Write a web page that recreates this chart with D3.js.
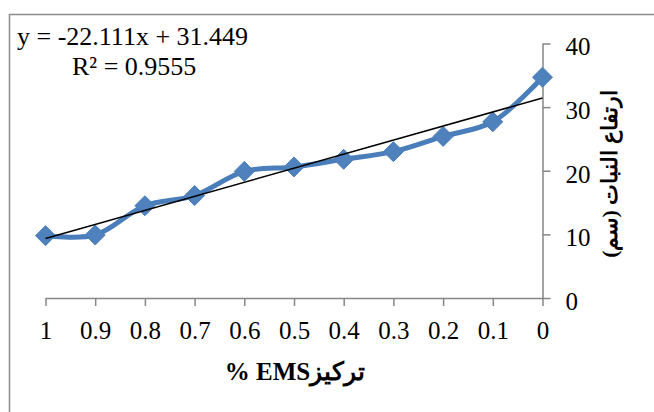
<!DOCTYPE html>
<html>
<head>
<meta charset="utf-8">
<script src="https://cdn.jsdelivr.net/npm/d3@7"></script>
<style>
  html, body { margin: 0; padding: 0; background: #fff; }
  svg { display: block; }
  svg text { font-family: "Times New Roman", "Liberation Serif", serif; fill: #000; }
</style>
</head>
<body>
<svg id="chart" width="654" height="412"></svg>
<script>
// EMS concentration (%) and plant height (cm)
const concentrations = [1, 0.9, 0.8, 0.7, 0.6, 0.5, 0.4, 0.3, 0.2, 0.1, 0];
const concentrationLabels = ["1", "0.9", "0.8", "0.7", "0.6", "0.5", "0.4", "0.3", "0.2", "0.1", "0"];
const plantHeight = [9.8, 9.9, 14.5, 16.1, 19.9, 20.6, 21.8, 23.0, 25.4, 27.7, 34.7];
const heightTicks = [0, 10, 20, 30, 40];

// Linear trendline fitted to the series
const trendSlope = -22.111;
const trendIntercept = 31.449;
const trendR2 = 0.9555;

const svg = d3.select("#chart");
const gray = "#878787";
const serif = '"Times New Roman", "Liberation Serif", serif';

// chart area frame
svg.append("rect")
  .attr("x", 9.5).attr("y", 14.5)
  .attr("width", 700).attr("height", 450)
  .attr("fill", "#fff").attr("stroke", "#8c8c8c").attr("stroke-width", 1.5);

const x = d3.scaleLinear().domain([1, 0]).range([45.5, 542.5]);
const y = d3.scaleLinear().domain([0, 40]).range([298, 43.5]);

// x axis
const xAxis = d3.axisBottom(x)
  .tickValues(concentrations)
  .tickFormat((d, i) => concentrationLabels[i])
  .tickSize(8).tickSizeOuter(0).tickPadding(15);
const gx = svg.append("g").attr("transform", `translate(0,${y(0)})`).call(xAxis)
  .attr("font-family", serif).attr("font-size", 25);
gx.select(".domain").attr("stroke", gray).attr("stroke-width", 1.5);
gx.selectAll(".tick line").attr("stroke", gray).attr("stroke-width", 1.5);
gx.selectAll(".tick text").attr("fill", "#000");

// y axis on the right
const yAxis = d3.axisRight(y)
  .tickValues(heightTicks)
  .tickSize(8).tickSizeOuter(0).tickPadding(15);
const gy = svg.append("g").attr("transform", `translate(${x(0)},0)`).call(yAxis)
  .attr("font-family", serif).attr("font-size", 25);
gy.select(".domain").attr("stroke", gray).attr("stroke-width", 1.5);
gy.selectAll(".tick line").attr("stroke", gray).attr("stroke-width", 1.5);
gy.selectAll(".tick text").attr("fill", "#000").attr("dy", "0.45em");

// data series: smoothed line with diamond markers
const points = concentrations.map((c, i) => [c, plantHeight[i]]);
const line = d3.line().x(d => x(d[0])).y(d => y(d[1])).curve(d3.curveCatmullRom.alpha(0.5));
svg.append("path").datum(points)
  .attr("d", line)
  .attr("fill", "none").attr("stroke", "#4A7EBB").attr("stroke-width", 5)
  .attr("stroke-linejoin", "round").attr("stroke-linecap", "round");

const r = 10;
svg.append("g").selectAll("path").data(points).join("path")
  .attr("d", d => {
    const cx = x(d[0]), cy = y(d[1]);
    return `M${cx},${cy - r}L${cx + r},${cy}L${cx},${cy + r}L${cx - r},${cy}Z`;
  })
  .attr("fill", "#4F81BD").attr("stroke", "#4A7EBB").attr("stroke-width", 1);

// trendline
const trendDomain = [1, 0];
svg.append("line")
  .attr("x1", x(trendDomain[0])).attr("y1", y(trendSlope * trendDomain[0] + trendIntercept))
  .attr("x2", x(trendDomain[1])).attr("y2", y(trendSlope * trendDomain[1] + trendIntercept))
  .attr("stroke", "#000").attr("stroke-width", 1.5);

// trendline equation and R²
svg.append("text").attr("x", 17).attr("y", 45).attr("font-size", 26)
  .text(`y = ${trendSlope}x + ${trendIntercept}`);
svg.append("text").attr("x", 72).attr("y", 75).attr("font-size", 26)
  .text(`R² = ${trendR2}`);

// axis titles
svg.append("text")
  .attr("x", 295).attr("y", 380)
  .attr("text-anchor", "middle")
  .attr("font-size", 25).attr("font-weight", "bold")
  .attr("direction", "rtl").style("unicode-bidi", "embed")
  .text("تركيزEMS %");

svg.append("text")
  .attr("transform", "translate(617,174) rotate(-90)")
  .attr("text-anchor", "middle")
  .attr("font-size", 22).attr("font-weight", "bold")
  .attr("direction", "rtl").style("unicode-bidi", "embed")
  .text("ارتفاع النبات (سم)");
</script>
</body>
</html>
